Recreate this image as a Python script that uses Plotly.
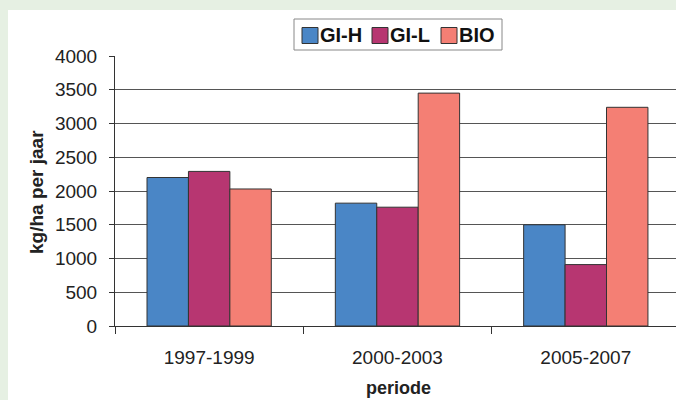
import plotly.graph_objects as go

categories = ["1997-1999", "2000-2003", "2005-2007"]
series_names = ["GI-H", "GI-L", "BIO"]
gi_h = [2200, 1820, 1500]
gi_l = [2290, 1760, 910]
bio = [2030, 3450, 3240]
series_values = [gi_h, gi_l, bio]
series_colors = ["#4a86c6", "#b73671", "#f47f74"]
y_ticks = [0, 500, 1000, 1500, 2000, 2500, 3000, 3500, 4000]

W, H = 676, 400
L, R, T, B = 115, 0, 56, 74
pw, ph = W - L - R, H - T - B

def px_x(x):
    return (x - L) / pw

def px_y(y):
    return (H - B - y) / ph

FONT = "Liberation Sans, Arial, sans-serif"
GREEN = "#e6f0e3"

fig = go.Figure()
for name, vals, col in zip(series_names, series_values, series_colors):
    fig.add_trace(go.Bar(
        x=categories, y=vals, name=name,
        marker=dict(color=col, line=dict(color="#333333", width=1)),
        showlegend=False,
    ))

shapes = []
annotations = []
# green page strips (left and top) around the white chart panel
shapes.append(dict(type="rect", xref="paper", yref="paper", layer="below",
                   x0=px_x(-5), x1=px_x(8), y0=px_y(H + 5), y1=px_y(-5),
                   fillcolor=GREEN, line=dict(width=0)))
shapes.append(dict(type="rect", xref="paper", yref="paper", layer="below",
                   x0=px_x(-5), x1=px_x(W + 5), y0=px_y(10), y1=px_y(-5),
                   fillcolor=GREEN, line=dict(width=0)))

# legend box
lx0, lx1, ly0, ly1 = 294, 502, 19, 50
shapes.append(dict(type="rect", xref="paper", yref="paper",
                   x0=px_x(lx0), x1=px_x(lx1), y0=px_y(ly1), y1=px_y(ly0),
                   fillcolor="white", line=dict(color="#888888", width=1)))
sw_x = [302, 372, 441]
for name, col, sx in zip(series_names, series_colors, sw_x):
    shapes.append(dict(type="rect", xref="paper", yref="paper",
                       x0=px_x(sx), x1=px_x(sx + 16), y0=px_y(43.5), y1=px_y(27.5),
                       fillcolor=col, line=dict(color="#333333", width=1)))
    annotations.append(dict(text="<b>" + name + "</b>", xref="paper", yref="paper",
                            x=px_x(sx + 16), y=px_y(35.5), xanchor="left", yanchor="middle",
                            showarrow=False, font=dict(family=FONT, size=20, color="#111111")))

annotations.append(dict(text="<b>periode</b>", xref="paper", yref="paper",
                        x=px_x(398), y=px_y(388), xanchor="center", yanchor="middle",
                        showarrow=False, font=dict(family=FONT, size=18, color="#222222")))
annotations.append(dict(text="<b>kg/ha per jaar</b>", xref="paper", yref="paper",
                        x=px_x(36), y=px_y(192), xanchor="center", yanchor="middle",
                        textangle=-90, showarrow=False,
                        font=dict(family=FONT, size=19, color="#222222")))

fig.update_layout(
    width=W, height=H,
    margin=dict(l=L, r=R, t=T, b=B, pad=0),
    paper_bgcolor="white",
    plot_bgcolor="white",
    barmode="group",
    bargap=0.34,
    bargroupgap=0,
    shapes=shapes,
    annotations=annotations,
    showlegend=False,
    font=dict(family=FONT, size=19, color="#222222"),
)
fig.update_xaxes(
    range=[-0.5, 2.479],
    showline=True, linecolor="#333333", linewidth=1,
    ticks="outside", tickson="boundaries", ticklen=7, tickcolor="#333333",
    showgrid=False, tickfont=dict(size=19), ticklabelstandoff=14,
)
fig.update_yaxes(
    range=[0, 4000], tickvals=y_ticks,
    showline=True, linecolor="#333333", linewidth=1,
    ticks="outside", ticklen=5, tickcolor="#333333",
    showgrid=True, gridcolor="#555555", gridwidth=1,
    zeroline=False, tickfont=dict(size=19), ticklabelstandoff=8,
)

fig.write_html(
    "out.html",
    config={"displayModeBar": False},
    post_script=(
        "var st=document.createElement('style');"
        "st.textContent='html,body{margin:0;padding:0;overflow:hidden;scrollbar-width:none;background:#fff}"
        "::-webkit-scrollbar{display:none;width:0;height:0}';"
        "document.head.appendChild(st);"
    ),
)
